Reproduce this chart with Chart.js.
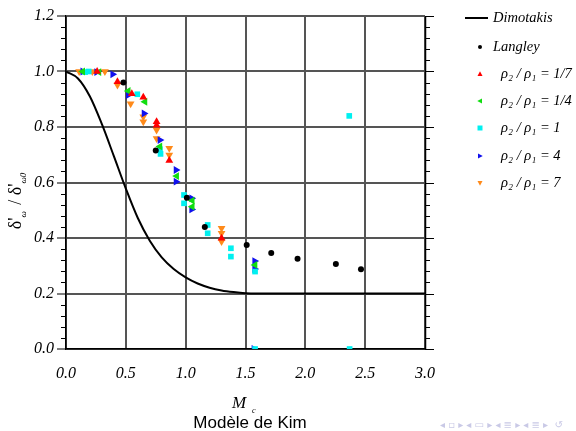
<!DOCTYPE html>
<html><head><meta charset="utf-8">
<script src="https://cdn.jsdelivr.net/npm/chart.js@4.4.1/dist/chart.umd.min.js"></script>
<style>html,body{margin:0;padding:0;background:#fff}</style>
</head><body>
<canvas id="c" width="576" height="431"></canvas>
<script>
// Dimotakis curve
const dimMc  = [0,0.1,0.2,0.3,0.4,0.5,0.6,0.7,0.8,0.9,1.0,1.1,1.2,1.3,1.4,1.5,1.6,2.0,2.5,3.0];
const dimVal = [1.0,0.975,0.91,0.81,0.695,0.578,0.472,0.39,0.33,0.288,0.258,0.236,0.221,0.211,0.205,0.201,0.2,0.2,0.2,0.2];
// Langley
const langMc  = [0.48,0.75,1.01,1.16,1.51,1.715,1.935,2.255,2.465];
const langVal = [0.96,0.715,0.545,0.44,0.375,0.346,0.325,0.306,0.287];
// rho2/rho1 = 1/7
const r17Mc  = [0.26,0.43,0.55,0.646,0.757,0.757,0.863,1.30];
const r17Val = [1.0,0.963,0.92,0.907,0.819,0.806,0.679,0.399];
// rho2/rho1 = 1/4
const r14Mc  = [0.14,0.275,0.52,0.66,0.785,0.925,1.055,1.055,1.58];
const r14Val = [1.0,0.998,0.93,0.891,0.73,0.623,0.535,0.513,0.303];
// rho2/rho1 = 1
const r1Mc  = [0.16,0.19,0.596,0.785,0.79,0.986,0.986,1.184,1.184,1.378,1.378,1.58,1.58,2.367,2.37];
const r1Val = [0.998,1.0,0.918,0.72,0.703,0.555,0.525,0.447,0.417,0.363,0.333,0.279,0.0,0.84,0.0];
// rho2/rho1 = 4
const r4Mc  = [0.14,0.256,0.39,0.52,0.652,0.785,0.919,0.919,1.05,1.05,1.576,1.576,1.57];
const r4Val = [1.0,0.998,0.99,0.915,0.849,0.753,0.645,0.603,0.543,0.503,0.317,0.288,0.0];
// rho2/rho1 = 7
const r7Mc  = [0.11,0.22,0.325,0.43,0.54,0.646,0.646,0.757,0.757,0.863,0.863,1.30,1.30,1.30];
const r7Val = [1.0,1.0,1.0,0.951,0.884,0.837,0.819,0.789,0.759,0.723,0.699,0.435,0.417,0.387];

const xTicks = [0,0.5,1.0,1.5,2.0,2.5,3.0];
const yTicks = [0,0.2,0.4,0.6,0.8,1.0,1.2];

const legendNames = ['Dimotakis','Langley','ρ₂ / ρ₁ = 1/7','ρ₂ / ρ₁ = 1/4','ρ₂ / ρ₁ = 1','ρ₂ / ρ₁ = 4','ρ₂ / ρ₁ = 7'];

const pts = (xs, ys) => xs.map((v,i)=>({x:v,y:ys[i]}));
const serif = '"Liberation Serif","Times New Roman",serif';

const COL = {red:'#ff0000', green:'#11dd11', cyan:'#00f0f0', blue:'#1010ee', orange:'#ff8a1a'};

const series = [
  {label:legendNames[1], data:pts(langMc,langVal), style:'circle', rot:0, color:'#000', r:3},
  {label:legendNames[2], data:pts(r17Mc,r17Val), style:'triangle', rot:0, color:COL.red, r:4.5},
  {label:legendNames[3], data:pts(r14Mc,r14Val), style:'triangle', rot:-90, color:COL.green, r:4.5},
  {label:legendNames[4], data:pts(r1Mc,r1Val), style:'rect', rot:0, color:COL.cyan, r:4},
  {label:legendNames[5], data:pts(r4Mc,r4Val), style:'triangle', rot:90, color:COL.blue, r:4.5},
  {label:legendNames[6], data:pts(r7Mc,r7Val), style:'triangle', rot:180, color:COL.orange, r:4.5},
];

const datasets = [{
  type:'line', label:legendNames[0], data:pts(dimMc,dimVal),
  borderColor:'#000', borderWidth:2, pointRadius:0, cubicInterpolationMode:'monotone', order:10
}].concat(series.map(s=>({
  type:'scatter', label:s.label, data:s.data, pointStyle:s.style, rotation:s.rot,
  backgroundColor:s.color, borderColor:s.color, borderWidth:0, pointRadius:s.r, pointHoverRadius:s.r, order:1
})));

function drawMarker(ctx, s, x, y, r){
  ctx.save(); ctx.translate(x,y); ctx.rotate(s.rot*Math.PI/180);
  ctx.fillStyle = s.color; ctx.beginPath();
  if (s.style==='circle'){ ctx.arc(0,0,r,0,Math.PI*2); }
  else if (s.style==='rect'){ ctx.rect(-r,-r,2*r,2*r); }
  else { ctx.moveTo(0,-r*1.1); ctx.lineTo(r,r*0.8); ctx.lineTo(-r,r*0.8); ctx.closePath(); }
  ctx.fill(); ctx.restore();
}

const deco = {
  id:'deco',
  afterDraw(chart){
    const {ctx, chartArea:a, scales:{x,y}} = chart;
    ctx.save();
    // minor ticks on left and right
    ctx.strokeStyle='#000'; ctx.lineWidth=1;
    for (let i=0;i<=30;i++){
      const v = i*0.04;
      const py = Math.round(y.getPixelForValue(v))+0.5;
      const major = (i%5===0);
      const L = major?9:5;
      ctx.beginPath();
      if(!major){ ctx.moveTo(a.left-L,py); ctx.lineTo(a.left,py); }
      ctx.moveTo(a.right,py); ctx.lineTo(a.right+L,py);
      ctx.stroke();
    }
    // right axis line
    ctx.lineWidth=1.5; ctx.beginPath(); ctx.moveTo(a.right+0.5,a.top); ctx.lineTo(a.right+0.5,a.bottom); ctx.stroke();

    // legend
    const lx = 480, tx = 493;
    const rows = [18,47,74,101,128,156,183];
    ctx.textBaseline='middle'; ctx.textAlign='left';
    ctx.fillStyle='#000';
    ctx.font = 'italic 14.5px '+serif;
    ctx.lineWidth=2; ctx.beginPath(); ctx.moveTo(465,rows[0]); ctx.lineTo(488,rows[0]); ctx.stroke();
    ctx.fillText(legendNames[0], tx, rows[0]);
    series.forEach((s,i)=>{
      drawMarker(ctx, s, lx, rows[i+1], s.style==='circle'?2:2.5);
      ctx.fillStyle='#000';
      ctx.fillText(s.label, i===0?tx:tx+8, rows[i+1]);
    });

    // y title
    ctx.save();
    ctx.translate(15, 200); ctx.rotate(-Math.PI/2);
    const parts = [
      {t:"δ'", f:'18px '+serif, dy:0},
      {t:"ω", f:'italic 9px '+serif, dy:5},
      {t:" / ", f:'18px '+serif, dy:0},
      {t:"δ'", f:'18px '+serif, dy:0},
      {t:"ω0", f:'italic 9px '+serif, dy:5}
    ];
    let w=0; parts.forEach(p=>{ctx.font=p.f; p.w=ctx.measureText(p.t).width+ (p.dy?2:0); w+=p.w;});
    let cx=-w/2; ctx.textBaseline='alphabetic';
    parts.forEach(p=>{ctx.font=p.f; ctx.fillText(p.t,cx,6+p.dy); cx+=p.w;});
    ctx.restore();

    // x title
    ctx.textBaseline='alphabetic';
    ctx.font='italic 17px '+serif; ctx.fillText('M',232,408);
    ctx.font='italic 8px '+serif; ctx.fillText('c',252,413);

    // frame title
    ctx.font='17px "Liberation Sans","DejaVu Sans",sans-serif'; ctx.textAlign='center';
    ctx.fillText('Modèle de Kim',250,428);

    // beamer navigation symbols
    ctx.fillStyle='#c9c9e6'; ctx.font='10px "DejaVu Sans",sans-serif'; ctx.textAlign='left';
    ctx.fillText('◂ ▫ ▸ ◂ ▭ ▸ ◂ ≣ ▸ ◂ ≣ ▸  ↺', 440, 428);
    ctx.restore();
  }
};

new Chart(document.getElementById('c'), {
  type:'scatter',
  data:{datasets},
  options:{
    responsive:false, animation:false,
    layout:{padding:{left:0,top:16,right:151,bottom:0}},
    plugins:{legend:{display:false}, tooltip:{enabled:false}},
    scales:{
      x:{type:'linear', min:0, max:3,
        afterBuildTicks:(s)=>{s.ticks = xTicks.map(v=>({value:v}));},
        ticks:{callback:(v)=>Number(v).toFixed(1), color:'#000', padding:15, maxRotation:0,
          font:{family:serif, style:'italic', size:16}},
        grid:{color:'#555', lineWidth:2, drawTicks:false},
        border:{display:true, color:'#000', width:1.5},
        afterFit:(s)=>{s.height=82;}
      },
      y:{type:'linear', min:0, max:1.2,
        afterBuildTicks:(s)=>{s.ticks = yTicks.map(v=>({value:v}));},
        ticks:{callback:(v)=>Number(v).toFixed(1), color:'#000', padding:3,
          font:{family:serif, style:'italic', size:16}},
        grid:{color:'#555', lineWidth:2, tickLength:9, tickColor:'#000', tickWidth:1},
        border:{display:true, color:'#000', width:1.5},
        afterFit:(s)=>{s.width=66;}
      }
    }
  },
  plugins:[deco]
});
</script>
</body></html>
